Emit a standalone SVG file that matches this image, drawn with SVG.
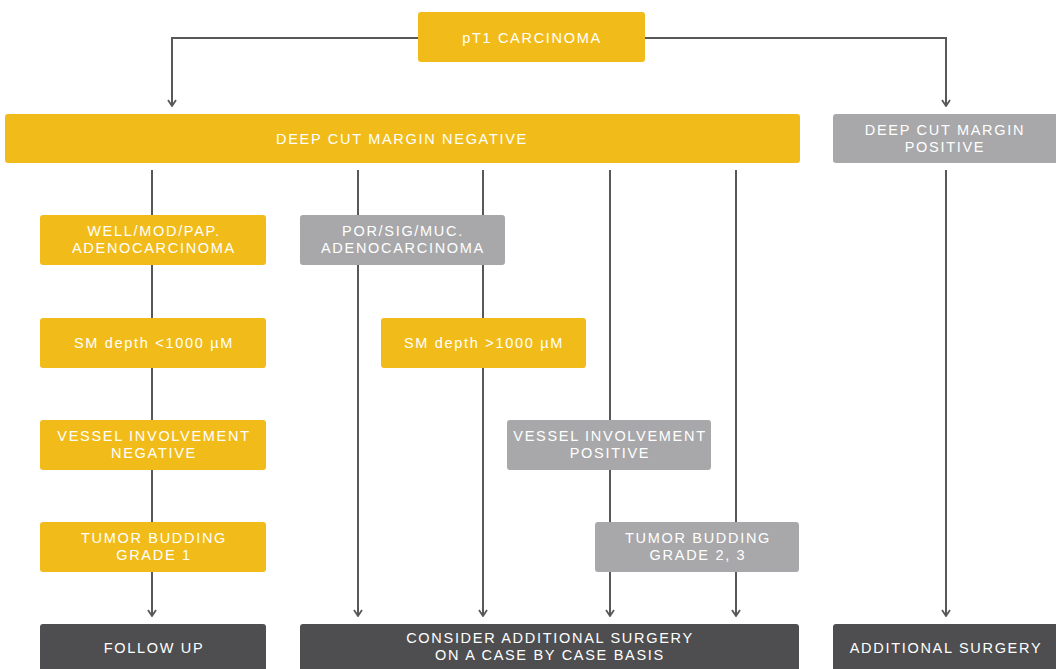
<svg xmlns="http://www.w3.org/2000/svg" width="1056" height="669" viewBox="0 0 1056 669">
<style>
.y{fill:#F1BC19}
.g{fill:#A8A8AA}
.d{fill:#4E4E50}
.t{font-family:"Liberation Sans",Arial,sans-serif;font-size:14.5px;fill:#fff;text-anchor:middle;letter-spacing:1.7px}
.c{stroke:#58585A;stroke-width:2;fill:none}
</style>
<defs>
<marker id="ah" viewBox="0 0 10 10" refX="9" refY="5" markerWidth="10" markerHeight="10" markerUnits="userSpaceOnUse" orient="auto">
<path d="M3,1 L9,5 L3,9" fill="none" stroke="#58585A" stroke-width="1.8"/>
</marker>
</defs>
<rect width="1056" height="669" fill="#fff"/>
<g id="connectors" class="c">
<path d="M418,38 H172 V106" marker-end="url(#ah)"/>
<path d="M645,38 H946 V106" marker-end="url(#ah)"/>
<path d="M152,170 V616" marker-end="url(#ah)"/>
<path d="M358,170 V616" marker-end="url(#ah)"/>
<path d="M483,170 V616" marker-end="url(#ah)"/>
<path d="M610,170 V616" marker-end="url(#ah)"/>
<path d="M736,170 V616" marker-end="url(#ah)"/>
<path d="M946,170 V616" marker-end="url(#ah)"/>
</g>
<g id="pt1"><rect class="y" x="418" y="12" width="227" height="50" rx="3"/><text class="t" x="532" y="43">pT1 CARCINOMA</text></g>
<g id="dcm-neg"><rect class="y" x="5" y="114" width="795" height="49" rx="3"/><text class="t" x="402" y="144">DEEP CUT MARGIN NEGATIVE</text></g>
<g id="dcm-pos"><rect class="g" x="833" y="114" width="226" height="49" rx="3"/><text class="t" x="945" y="135">DEEP CUT MARGIN</text><text class="t" x="945" y="152">POSITIVE</text></g>
<g id="well"><rect class="y" x="40" y="215" width="226" height="50" rx="3"/><text class="t" x="154" y="236">WELL/MOD/PAP.</text><text class="t" x="154" y="253">ADENOCARCINOMA</text></g>
<g id="por"><rect class="g" x="300" y="215" width="205" height="50" rx="3"/><text class="t" x="403" y="236">POR/SIG/MUC.</text><text class="t" x="403" y="253">ADENOCARCINOMA</text></g>
<g id="sm-lt"><rect class="y" x="40" y="318" width="226" height="50" rx="3"/><text class="t" x="154" y="348">SM depth &lt;1000 µM</text></g>
<g id="sm-gt"><rect class="y" x="381" y="318" width="205" height="50" rx="3"/><text class="t" x="484" y="348">SM depth &gt;1000 µM</text></g>
<g id="vessel-neg"><rect class="y" x="40" y="420" width="226" height="50" rx="3"/><text class="t" x="154" y="441">VESSEL INVOLVEMENT</text><text class="t" x="154" y="458">NEGATIVE</text></g>
<g id="vessel-pos"><rect class="g" x="507" y="420" width="204" height="50" rx="3"/><text class="t" x="610" y="441">VESSEL INVOLVEMENT</text><text class="t" x="610" y="458">POSITIVE</text></g>
<g id="tb1"><rect class="y" x="40" y="522" width="226" height="50" rx="3"/><text class="t" x="154" y="543">TUMOR BUDDING</text><text class="t" x="154" y="560">GRADE 1</text></g>
<g id="tb23"><rect class="g" x="595" y="522" width="204" height="50" rx="3"/><text class="t" x="698" y="543">TUMOR BUDDING</text><text class="t" x="698" y="560">GRADE 2, 3</text></g>
<g id="follow"><rect class="d" x="40" y="624" width="226" height="50" rx="3"/><text class="t" x="154" y="653">FOLLOW UP</text></g>
<g id="consider"><rect class="d" x="300" y="624" width="499" height="50" rx="3"/><text class="t" x="550" y="643">CONSIDER ADDITIONAL SURGERY</text><text class="t" x="550" y="660">ON A CASE BY CASE BASIS</text></g>
<g id="addsurg"><rect class="d" x="833" y="624" width="226" height="50" rx="3"/><text class="t" x="946" y="653">ADDITIONAL SURGERY</text></g>
</svg>
